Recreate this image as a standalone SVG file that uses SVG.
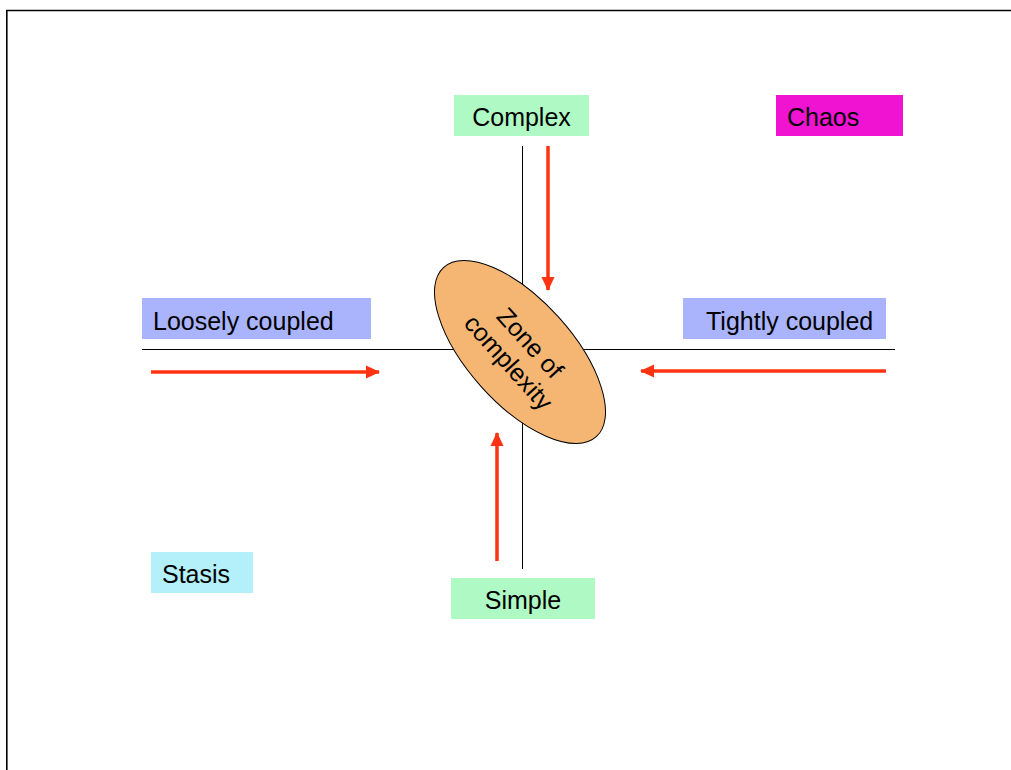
<svg xmlns="http://www.w3.org/2000/svg" width="1011" height="770" viewBox="0 0 1011 770">
  <style>
    .lbl { font-family: "Liberation Sans", Arial, sans-serif; font-size: 25px; fill: #000; }
    .axis { stroke: #000; stroke-width: 1; fill: none; }
    .flow { stroke: #FF3311; stroke-width: 3.5; fill: none; marker-end: url(#head); }
    .green { fill: #AFFAC4; }
    .blue { fill: #AAB4FC; }
  </style>
  <defs>
    <marker id="head" markerUnits="userSpaceOnUse" markerWidth="14" markerHeight="14" viewBox="0 0 14 14" refX="13" refY="7" orient="auto">
      <path d="M0,0.5 L14,7 L0,13.5 Z" fill="#FF3311"/>
    </marker>
  </defs>

  <rect width="1011" height="770" fill="#fff"/>
  <!-- page frame, open to the right and bottom -->
  <path d="M6.8,770 V10.5 H1011" fill="none" stroke="#000" stroke-width="1.6"/>

  <!-- axes and flow arrows -->
  <g id="connectors">
    <line class="axis" x1="142" y1="349.5" x2="895" y2="349.5"/>
    <line class="axis" x1="522.5" y1="146" x2="522.5" y2="569"/>
    <line class="flow" x1="548" y1="146" x2="548" y2="290"/>
    <line class="flow" x1="151" y1="372" x2="379" y2="372"/>
    <line class="flow" x1="886" y1="371" x2="641" y2="371"/>
    <line class="flow" x1="497" y1="561" x2="497" y2="433"/>
  </g>

  <g id="zone">
    <g transform="translate(520,352) rotate(48)">
      <ellipse cx="0" cy="0" rx="114" ry="52" fill="#F5B673" stroke="#000" stroke-width="1"/>
      <text class="lbl" x="0" y="-5" text-anchor="middle">Zone of</text>
      <text class="lbl" x="0" y="24" text-anchor="middle">complexity</text>
    </g>
  </g>

  <g id="complex">
    <rect class="green" x="454" y="95" width="135" height="41"/>
    <text class="lbl" x="521.5" y="126" text-anchor="middle">Complex</text>
  </g>

  <g id="chaos">
    <rect x="776" y="95" width="127" height="41" fill="#F014D2"/>
    <text class="lbl" x="787" y="126">Chaos</text>
  </g>

  <g id="loosely-coupled">
    <rect class="blue" x="142" y="298" width="229" height="41"/>
    <text class="lbl" x="153" y="330">Loosely coupled</text>
  </g>

  <g id="tightly-coupled">
    <rect class="blue" x="683" y="298" width="203" height="41"/>
    <text class="lbl" x="706" y="330">Tightly coupled</text>
  </g>

  <g id="stasis">
    <rect x="151" y="552" width="102" height="41" fill="#B4F0FA"/>
    <text class="lbl" x="162" y="583">Stasis</text>
  </g>

  <g id="simple">
    <rect class="green" x="451" y="578" width="144" height="41"/>
    <text class="lbl" x="523" y="609" text-anchor="middle">Simple</text>
  </g>
</svg>
